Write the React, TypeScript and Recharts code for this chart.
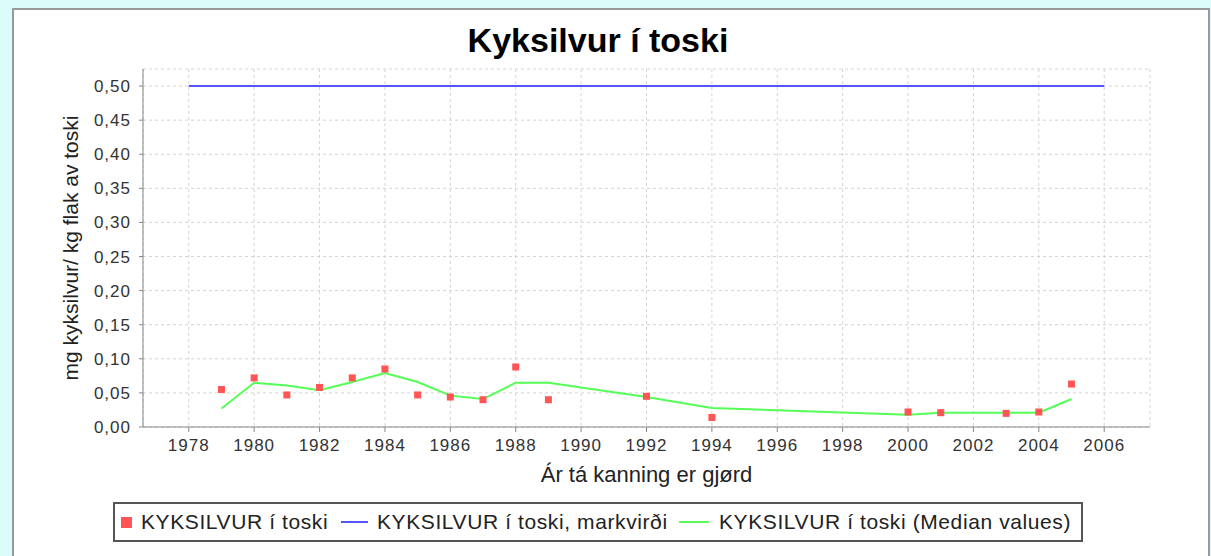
import React from 'react';
import {
    ComposedChart, Line, Scatter, XAxis, YAxis, CartesianGrid, Label
} from 'recharts';

// Mælingar (rauðir kassar)
const sampleYears = [1979, 1980, 1981, 1982, 1983, 1984, 1985, 1986, 1987, 1988, 1989, 1992, 1994, 2000, 2001, 2003, 2004, 2005];
const sampleValues = [0.055, 0.072, 0.047, 0.058, 0.072, 0.085, 0.047, 0.044, 0.040, 0.088, 0.040, 0.045, 0.014, 0.022, 0.021, 0.020, 0.022, 0.063];

// Miðgildi (grøn linja)
const medianYears = [1979, 1980, 1981, 1982, 1983, 1984, 1985, 1986, 1987, 1988, 1989, 1992, 1994, 2000, 2001, 2003, 2004, 2005];
const medianValues = [0.027, 0.065, 0.061, 0.054, 0.066, 0.079, 0.066, 0.046, 0.041, 0.065, 0.065, 0.044, 0.028, 0.018, 0.021, 0.021, 0.021, 0.041];

// Markvirði (blá linja)
const limitYears = [1978, 2006];
const limitValues = [0.5, 0.5];

const xTicks = [1978, 1980, 1982, 1984, 1986, 1988, 1990, 1992, 1994, 1996, 1998, 2000, 2002, 2004, 2006];
const yTicks = [0, 0.05, 0.1, 0.15, 0.2, 0.25, 0.3, 0.35, 0.4, 0.45, 0.5];

const samples = sampleYears.map((year, i) => ({ year, value: sampleValues[i] }));
const medians = medianYears.map((year, i) => ({ year, value: medianValues[i] }));
const limits = limitYears.map((year, i) => ({ year, value: limitValues[i] }));

const FONT = '"Liberation Sans", Arial, sans-serif';
const RED = '#FF5555';
const BLUE = '#5555FF';
const GREEN = '#55FF55';

const tickStyle = { fill: '#333', fontSize: 17, fontFamily: FONT, letterSpacing: 1 };

function Square(props: any) {
    const { cx, cy } = props;
    if (cx == null || cy == null) return null;
    return <rect x={cx - 3.5} y={cy - 3.5} width={7} height={7} fill={RED} />;
}

function LegendBox() {
    const item = { position: 'absolute', top: 0, height: 36, display: 'flex', alignItems: 'center' } as const;
    return (
        <div style={{
            position: 'absolute', left: 113, top: 502, width: 966, height: 36,
            border: '2px solid #555', background: '#fff',
            fontFamily: FONT, fontSize: 21, letterSpacing: 0.6, color: '#222', whiteSpace: 'nowrap'
        }}>
            <div style={{ ...item, left: 6 }}>
                <span style={{ width: 11, height: 11, background: RED, display: 'inline-block', marginRight: 9 }} />
                KYKSILVUR í toski
            </div>
            <div style={{ ...item, left: 226 }}>
                <span style={{ width: 27, height: 2, background: BLUE, display: 'inline-block', marginRight: 9 }} />
                KYKSILVUR í toski, markvirði
            </div>
            <div style={{ ...item, left: 564 }}>
                <span style={{ width: 30, height: 2, background: GREEN, display: 'inline-block', marginRight: 10 }} />
                KYKSILVUR í toski (Median values)
            </div>
        </div>
    );
}

export default function App() {
    return (
        <div style={{ position: 'absolute', left: 0, top: 0, width: 1211, height: 556, background: '#dcfcfc', overflow: 'hidden' }}>
            <div style={{ position: 'absolute', left: 12, top: 8, width: 1194, height: 600, background: '#fff', border: '2px solid #999' }} />

            <div style={{
                position: 'absolute', left: 0, top: 23, width: 1196, textAlign: 'center',
                fontFamily: FONT, fontWeight: 'bold', fontSize: 34, lineHeight: '34px', color: '#000'
            }}>
                Kyksilvur í toski
            </div>

            <div style={{ position: 'absolute', left: 0, top: 0 }}>
                <ComposedChart width={1211} height={556} margin={{ top: 69, right: 61, left: 43, bottom: 99 }}>
                    <CartesianGrid stroke="#d4d4d4" strokeDasharray="3 3" />

                    <XAxis
                        dataKey="year" type="number" domain={[1976.6, 2007.4]} ticks={xTicks}
                        allowDataOverflow height={30} tickSize={5} tickMargin={7}
                        stroke="#888" tick={tickStyle}
                    >
                        <Label value="Ár tá kanning er gjørd" position="bottom" offset={9}
                            style={{ fontFamily: FONT, fontSize: 22, fill: '#222' }} />
                    </XAxis>
                    <XAxis xAxisId="top" orientation="top" type="number" domain={[1976.6, 2007.4]}
                        height={0} tick={false} tickLine={false} stroke="#c4c4c4" />

                    <YAxis
                        dataKey="value" type="number" domain={[0, 0.525]} ticks={yTicks}
                        allowDataOverflow width={100} tickSize={4} tickMargin={8}
                        stroke="#888" tick={tickStyle}
                        tickFormatter={(v: number) => v.toFixed(2).replace('.', ',')}
                    >
                        <Label value="mg kyksilvur/ kg flak av toski" angle={-90} position="center" dx={-22}
                            style={{ fontFamily: FONT, fontSize: 21, fill: '#222' }} />
                    </YAxis>
                    <YAxis yAxisId="right" orientation="right" type="number" domain={[0, 0.525]}
                        width={0} tick={false} tickLine={false} stroke="#c4c4c4" />

                    <Line data={limits} dataKey="value" type="linear" stroke={BLUE} strokeWidth={2}
                        dot={false} activeDot={false} isAnimationActive={false} />
                    <Line data={medians} dataKey="value" type="linear" stroke={GREEN} strokeWidth={2}
                        dot={false} activeDot={false} isAnimationActive={false} />
                    <Scatter data={samples} dataKey="value" shape={<Square />} isAnimationActive={false} />
                </ComposedChart>
            </div>

            <LegendBox />
        </div>
    );
}
